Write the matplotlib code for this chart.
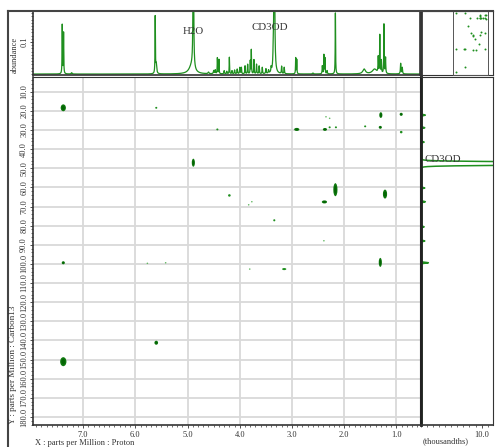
import numpy as np
import matplotlib.pyplot as plt
from matplotlib.patches import Ellipse
from matplotlib.lines import Line2D
from matplotlib.ticker import MultipleLocator, FixedLocator, FormatStrFormatter

plt.rcParams['font.family'] = ['Liberation Serif', 'DejaVu Serif']

# 1H projection: shift (ppm), height (abundance), half width (ppm)
h_shift = [7.40, 7.375, 7.22, 5.62, 5.60, 4.89, 4.92, 4.60, 4.50, 4.47, 4.43, 4.40,
           4.30, 4.25, 4.20, 4.15, 4.10, 4.05, 4.00, 3.97, 3.90, 3.85, 3.80, 3.78,
           3.73, 3.68, 3.63, 3.57, 3.50, 3.45, 3.40, 3.36, 3.34, 3.20, 3.15, 2.93,
           2.91, 2.60, 2.42, 2.39, 2.37, 2.33, 2.17, 1.62, 1.42, 1.35, 1.32, 1.29,
           1.24, 1.21, 0.92, 0.89]
h_height = [0.155, 0.130, 0.004, 0.180, 0.030, 0.60, 0.025, 0.005, 0.010, 0.012, 0.050, 0.045,
            0.010, 0.008, 0.052, 0.010, 0.012, 0.015, 0.020, 0.020, 0.025, 0.030, 0.040, 0.075,
            0.045, 0.030, 0.025, 0.020, 0.015, 0.010, 0.015, 0.040, 0.60, 0.023, 0.020, 0.050,
            0.045, 0.003, 0.025, 0.060, 0.050, 0.010, 0.195, 0.015, 0.015, 0.050, 0.120, 0.040,
            0.156, 0.050, 0.033, 0.020]
h_hwhm = [0.004, 0.004, 0.01, 0.004, 0.01, 0.006, 0.06, 0.01, 0.008, 0.006, 0.004, 0.004,
          0.006, 0.006, 0.004, 0.006, 0.006, 0.006, 0.006, 0.005, 0.005, 0.005, 0.004, 0.004,
          0.004, 0.005, 0.005, 0.005, 0.006, 0.006, 0.006, 0.005, 0.008, 0.005, 0.005, 0.004,
          0.004, 0.01, 0.005, 0.004, 0.004, 0.006, 0.004, 0.03, 0.05, 0.005, 0.004, 0.005,
          0.004, 0.005, 0.006, 0.006]

# 13C projection: shift (ppm), height (thousandths), width (ppm)
c_shift = [22.2, 28.8, 36.3, 47.5, 60.3, 67.5, 80.6, 88.0, 99.4]
c_height = [0.6, 0.5, 0.4, 60.0, 0.5, 0.6, 0.4, 0.5, 1.1]
c_width = [0.3, 0.3, 0.3, 0.8, 0.3, 0.3, 0.3, 0.3, 0.3]

# HSQC cross peaks: 1H shift, 13C shift, widths (ppm), intensity level
cross_h = [7.38, 5.60, 4.43, 4.89, 4.20, 3.77, 3.83, 3.34, 7.38, 5.77, 5.42, 3.81,
           2.35, 2.28, 1.30, 0.91, 2.91, 2.37, 2.28, 2.16, 1.60, 1.31, 0.91, 2.17,
           2.38, 1.22, 2.39, 3.15, 1.31, 5.60, 7.38]
cross_c = [18.4, 18.4, 29.7, 47.1, 64.2, 67.5, 69.1, 77.2, 99.4, 99.7, 99.4, 102.7,
           23.1, 23.9, 22.2, 21.8, 29.7, 29.7, 28.6, 28.6, 28.1, 28.6, 31.1, 61.2,
           67.6, 63.5, 87.9, 102.7, 99.2, 141.2, 151.1]
cross_dh = [0.10, 0.04, 0.04, 0.06, 0.05, 0.03, 0.03, 0.04, 0.06, 0.03, 0.03, 0.03,
            0.03, 0.03, 0.06, 0.06, 0.10, 0.08, 0.04, 0.04, 0.04, 0.06, 0.05, 0.08,
            0.10, 0.08, 0.03, 0.08, 0.06, 0.07, 0.12]
cross_dc = [3.6, 1.0, 1.0, 4.2, 1.3, 0.8, 0.8, 1.1, 1.6, 0.8, 0.8, 0.8,
            0.8, 0.8, 3.0, 1.6, 1.6, 1.5, 1.0, 1.0, 1.0, 1.5, 1.3, 6.8,
            1.6, 4.7, 0.8, 1.1, 4.7, 2.1, 4.7]
cross_level = [3, 2, 2, 3, 2, 1, 1, 2, 3, 1, 1, 1,
               1, 1, 3, 3, 3, 3, 2, 2, 2, 3, 2, 3,
               3, 3, 1, 2, 3, 3, 3]

x_ticks = [7.0, 6.0, 5.0, 4.0, 3.0, 2.0, 1.0]
y_ticks = [10.0, 20.0, 30.0, 40.0, 50.0, 60.0, 70.0, 80.0, 90.0,
           100.0, 110.0, 120.0, 130.0, 140.0, 150.0, 160.0, 170.0, 180.0]

W, H = 496.0, 447.0
fig = plt.figure(figsize=(W / 100, H / 100), dpi=100)

def box(l, t, r, b):
    return [l / W, 1 - b / H, (r - l) / W, (b - t) / H]

dark = '#333333'
xlim = (7.96, 0.55)
ylim = (184.2, 2.3)

ax = fig.add_axes(box(33, 77, 420, 425))
ax_top = fig.add_axes(box(33, 10.7, 420, 75))
ax_right = fig.add_axes(box(421, 77, 492.5, 425))
ax_corner = fig.add_axes(box(421, 10.7, 492.5, 75))
ax_mini = fig.add_axes(box(453.3, 10.7, 488.3, 75))

# main 2D map
ax.set_xlim(xlim)
ax.set_ylim(ylim)
ax.xaxis.set_major_locator(FixedLocator(x_ticks))
ax.yaxis.set_major_locator(FixedLocator(y_ticks))
ax.xaxis.set_minor_locator(MultipleLocator(0.1))
ax.yaxis.set_minor_locator(MultipleLocator(2))
ax.xaxis.set_major_formatter(FormatStrFormatter('%.1f'))
ax.yaxis.set_major_formatter(FormatStrFormatter('%.1f'))
ax.grid(True, which='major', color='#d9d9d9', lw=1.3, zorder=0)
ax.set_axisbelow(True)
ax.tick_params(which='major', length=2.5, width=0.6, color=dark, labelsize=6, labelcolor=dark, pad=2)
ax.tick_params(axis='y', pad=1)
ax.tick_params(which='minor', length=1.3, width=0.5, color=dark)
ax.tick_params(axis='y', labelrotation=90)
plt.setp(ax.get_yticklabels(), va='center')
for s in ax.spines.values():
    s.set_color(dark)
    s.set_linewidth(0.8)
ax.spines['left'].set_linewidth(1.2)
ax.spines['bottom'].set_linewidth(1.2)

colors = {1: '#62b862', 2: '#1f8f1f', 3: '#0e780e'}
for h, c, dh, dc, lv in zip(cross_h, cross_c, cross_dh, cross_dc, cross_level):
    ax.add_patch(Ellipse((h, c), dh, dc, facecolor=colors[lv], edgecolor='none', zorder=3))
    if lv == 3:
        ax.add_patch(Ellipse((h, c), dh * 0.55, dc * 0.6, facecolor='#046404', edgecolor='none', zorder=4))

# 1H projection on top
xs = np.linspace(xlim[0], xlim[1], 6000)
ys = np.zeros_like(xs)
for p, a, g in zip(h_shift, h_height, h_hwhm):
    ys += a * g ** 2 / ((xs - p) ** 2 + g ** 2)
ax_top.plot(xs, ys, color='#1f8f1f', lw=0.9)
ax_top.set_xlim(xlim)
ax_top.set_ylim(-0.003, 0.198)
ax_top.set_xticks([])
ax_top.yaxis.set_major_locator(FixedLocator([0.1]))
ax_top.yaxis.set_minor_locator(MultipleLocator(0.01))
ax_top.yaxis.set_major_formatter(FormatStrFormatter('%.1f'))
ax_top.tick_params(axis='y', which='major', length=2.5, width=0.6, color=dark,
                   labelsize=6, labelcolor=dark, pad=1, labelrotation=90)
ax_top.tick_params(axis='y', which='minor', length=1.3, width=0.5, color=dark)
plt.setp(ax_top.get_yticklabels(), va='center')
for s in ax_top.spines.values():
    s.set_color(dark)
    s.set_linewidth(1.2)
ax_top.text(4.89, 0.132, 'H2O', fontsize=7.8, color=dark, ha='center', va='center')
ax_top.text(3.42, 0.146, 'CD3OD', fontsize=7.8, color=dark, ha='center', va='center')

# 13C projection on the right
cy = np.linspace(ylim[1], ylim[0], 8000)
cx = np.full_like(cy, 0.12)
for p, a, g in zip(c_shift, c_height, c_width):
    cx += a * np.exp(-((cy - p) / g) ** 2)
ax_right.plot(cx, cy, color='#1f8f1f', lw=1.1)
ax_right.set_ylim(ylim)
ax_right.set_xlim(0, 11.8)
ax_right.set_yticks([])
ax_right.xaxis.set_major_locator(FixedLocator([10.0]))
ax_right.xaxis.set_minor_locator(MultipleLocator(1))
ax_right.xaxis.set_major_formatter(FormatStrFormatter('%.1f'))
ax_right.tick_params(axis='x', which='major', length=2.5, width=0.6, color=dark,
                     labelsize=6, labelcolor=dark, pad=2)
ax_right.tick_params(axis='x', which='minor', length=1.3, width=0.5, color=dark)
for s in ax_right.spines.values():
    s.set_color(dark)
    s.set_linewidth(0.8)
ax_right.spines['left'].set_linewidth(2)
ax_right.spines['left'].set_color('#222222')
ax_right.spines['bottom'].set_linewidth(1.2)
ax_right.text(0.6, 45.5, 'CD3OD', fontsize=7.8, color=dark, ha='left', va='center')

# overview in the corner
ax_corner.set_xticks([])
ax_corner.set_yticks([])
for s in ax_corner.spines.values():
    s.set_color(dark)
    s.set_linewidth(0.8)
ax_corner.spines['left'].set_linewidth(2)
ax_mini.scatter(cross_h, cross_c, s=2, color='#1f8f1f', linewidths=0)
ax_mini.set_xlim(8.0, 0.5)
ax_mini.set_ylim(158.6, 12.5)
ax_mini.set_xticks([])
ax_mini.set_yticks([])
ax_mini.patch.set_alpha(0)
for s in ax_mini.spines.values():
    s.set_color('#555555')
    s.set_linewidth(0.7)

# axis titles
fig.text(35 / W, 1 - 443 / H, 'X : parts per Million : Proton', fontsize=6, color=dark,
         ha='left', va='center')
fig.text(13 / W, 1 - 424 / H, 'Y : parts per Million : Carbon13', fontsize=6.6, color=dark,
         ha='center', va='bottom', rotation=90)
fig.text(15 / W, 1 - 73 / H, 'abundance', fontsize=6, color=dark,
         ha='center', va='bottom', rotation=90)
fig.text(423 / W, 1 - 441 / H, '(thousandths)', fontsize=6, color=dark,
         ha='left', va='center')

# outer frame
fig.add_artist(Line2D([8 / W, 8 / W], [0, 1 - 10.7 / H], transform=fig.transFigure,
                      color='#444444', lw=1.5))
fig.add_artist(Line2D([8 / W, 492.5 / W], [1 - 10.7 / H, 1 - 10.7 / H], transform=fig.transFigure,
                      color='#444444', lw=1.5))

fig.savefig('out.png', dpi=100)
